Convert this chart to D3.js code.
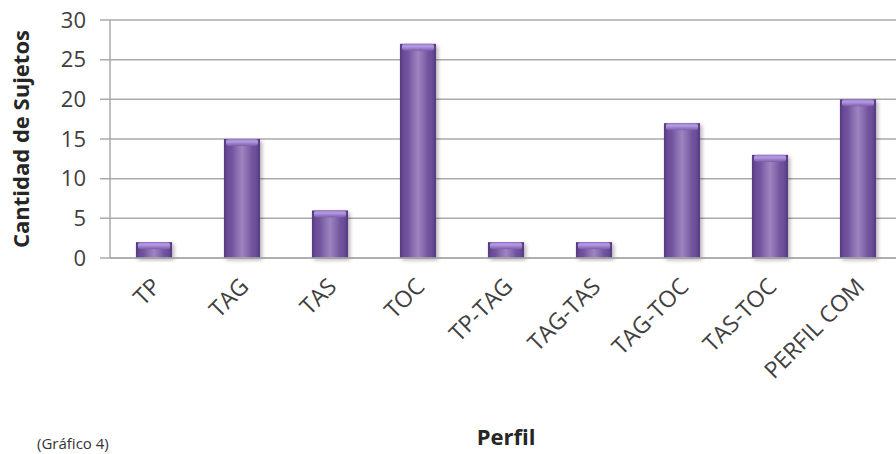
<!DOCTYPE html>
<html>
<head>
<meta charset="utf-8">
<script src="https://cdn.jsdelivr.net/npm/d3@7"></script>
<style>
  html, body { margin: 0; padding: 0; background: #fff; }
  svg { display: block; }
</style>
</head>
<body>
<svg id="chart" width="896" height="454"></svg>
<script>
// Perfil categories and number of subjects in each
const categories = ["TP", "TAG", "TAS", "TOC", "TP-TAG", "TAG-TAS", "TAG-TOC", "TAS-TOC", "PERFIL COM"];
const counts = [2, 15, 6, 27, 2, 2, 17, 13, 20];
const yTicks = [0, 5, 10, 15, 20, 25, 30];

const svg = d3.select("#chart");
const font = "'Open Sans', 'Liberation Sans', sans-serif";

const margin = { left: 110, right: -6, top: 20, bottom: 196 };
const W = 896, H = 454;

const x = d3.scaleBand()
  .domain(categories)
  .range([margin.left, W - margin.right])
  .paddingInner(0.59)
  .paddingOuter(0.295);

const y = d3.scaleLinear()
  .domain([0, 30])
  .range([H - margin.bottom, margin.top]);

const defs = svg.append("defs");

// body shading: darker sides, lighter middle
const body = defs.append("linearGradient").attr("id", "barBody")
  .attr("x1", "0").attr("x2", "1").attr("y1", "0").attr("y2", "0");
[[0, "#553a80"], [0.12, "#6c4e99"], [0.5, "#7d5cab"], [0.88, "#6c4e99"], [1, "#553a80"]]
  .forEach(([o, c]) => body.append("stop").attr("offset", o).attr("stop-color", c));

// top bevel highlight
const cap = defs.append("linearGradient").attr("id", "barCap")
  .attr("x1", "0").attr("x2", "0").attr("y1", "0").attr("y2", "1");
[[0, "#9478c4"], [0.35, "#b69ce6"], [1, "#7d5cab"]]
  .forEach(([o, c]) => cap.append("stop").attr("offset", o).attr("stop-color", c));

const capSide = defs.append("linearGradient").attr("id", "capSide")
  .attr("x1", "0").attr("x2", "1").attr("y1", "0").attr("y2", "0");
[[0, "#ffffff", 0], [0.2, "#ffffff", 0], [0.5, "#ffffff", 0.25], [0.8, "#ffffff", 0], [1, "#ffffff", 0]]
  .forEach(([o, c, a]) => capSide.append("stop").attr("offset", o).attr("stop-color", c).attr("stop-opacity", a));

const shadow = defs.append("filter").attr("id", "shadow")
  .attr("x", "-30%").attr("y", "-10%").attr("width", "160%").attr("height", "130%");
shadow.append("feGaussianBlur").attr("in", "SourceAlpha").attr("stdDeviation", 2.2).attr("result", "b");
shadow.append("feOffset").attr("dx", 1.5).attr("dy", 1.5).attr("result", "o");
shadow.append("feComponentTransfer").append("feFuncA").attr("type", "linear").attr("slope", 0.3);
const merge = shadow.append("feMerge");
merge.append("feMergeNode");
merge.append("feMergeNode").attr("in", "SourceGraphic");

// gridlines
svg.append("g")
  .selectAll("line")
  .data(yTicks)
  .join("line")
  .attr("x1", margin.left - 10)
  .attr("x2", W)
  .attr("y1", d => y(d))
  .attr("y2", d => y(d))
  .attr("stroke", "#aaaaaa")
  .attr("stroke-width", 1.5);

// value axis line
svg.append("line")
  .attr("x1", margin.left).attr("x2", margin.left)
  .attr("y1", y(30)).attr("y2", y(0))
  .attr("stroke", "#aaaaaa").attr("stroke-width", 1.5);

// value axis labels
const yAxis = d3.axisLeft(y).tickValues(yTicks).tickSize(0).tickPadding(24);
const yg = svg.append("g").attr("transform", `translate(${margin.left},0)`).call(yAxis);
yg.select(".domain").remove();
yg.selectAll("text")
  .attr("font-family", font)
  .attr("font-size", 22)
  .attr("fill", "#404040");

// bars
const bars = svg.append("g").selectAll("g.bar")
  .data(categories.map((c, i) => ({ c, v: counts[i] })))
  .join("g").attr("class", "bar")
  .attr("filter", "url(#shadow)");

bars.append("rect")
  .attr("x", d => x(d.c))
  .attr("y", d => y(d.v))
  .attr("width", x.bandwidth())
  .attr("height", d => y(0) - y(d.v))
  .attr("fill", "url(#barBody)");

bars.append("rect")
  .attr("x", d => x(d.c) + 2)
  .attr("y", d => y(d.v))
  .attr("width", x.bandwidth() - 4)
  .attr("height", 7)
  .attr("rx", 3)
  .attr("fill", "url(#barCap)");

bars.append("rect")
  .attr("x", d => x(d.c))
  .attr("y", d => y(d.v) + 7)
  .attr("width", x.bandwidth())
  .attr("height", d => Math.max(0, y(0) - y(d.v) - 7))
  .attr("fill", "url(#capSide)");

// category axis line
svg.append("line")
  .attr("x1", margin.left).attr("x2", W)
  .attr("y1", y(0)).attr("y2", y(0))
  .attr("stroke", "#aaaaaa").attr("stroke-width", 1.5);

// category labels, rotated
const xAxis = d3.axisBottom(x).tickSize(0).tickPadding(0);
const xg = svg.append("g").attr("transform", `translate(0,${y(0)})`).call(xAxis);
xg.select(".domain").remove();
xg.selectAll("text")
  .attr("font-family", font)
  .attr("font-size", 23)
  .attr("fill", "#404040")
  .attr("text-anchor", "end")
  .attr("dy", null)
  .attr("transform", "translate(8,30) rotate(-45)");

// axis titles
svg.append("text")
  .attr("transform", `translate(29,${(y(0) + y(30)) / 2}) rotate(-90)`)
  .attr("text-anchor", "middle")
  .attr("font-family", font)
  .attr("font-weight", "bold")
  .attr("font-size", 22)
  .attr("fill", "#262626")
  .text("Cantidad de Sujetos");

svg.append("text")
  .attr("x", 506)
  .attr("y", 445)
  .attr("text-anchor", "middle")
  .attr("font-family", font)
  .attr("font-weight", "bold")
  .attr("font-size", 22)
  .attr("fill", "#262626")
  .text("Perfil");

svg.append("text")
  .attr("x", 37)
  .attr("y", 449)
  .attr("font-family", font)
  .attr("font-size", 15)
  .attr("fill", "#333")
  .text("(Gráfico 4)");
</script>
</body>
</html>
